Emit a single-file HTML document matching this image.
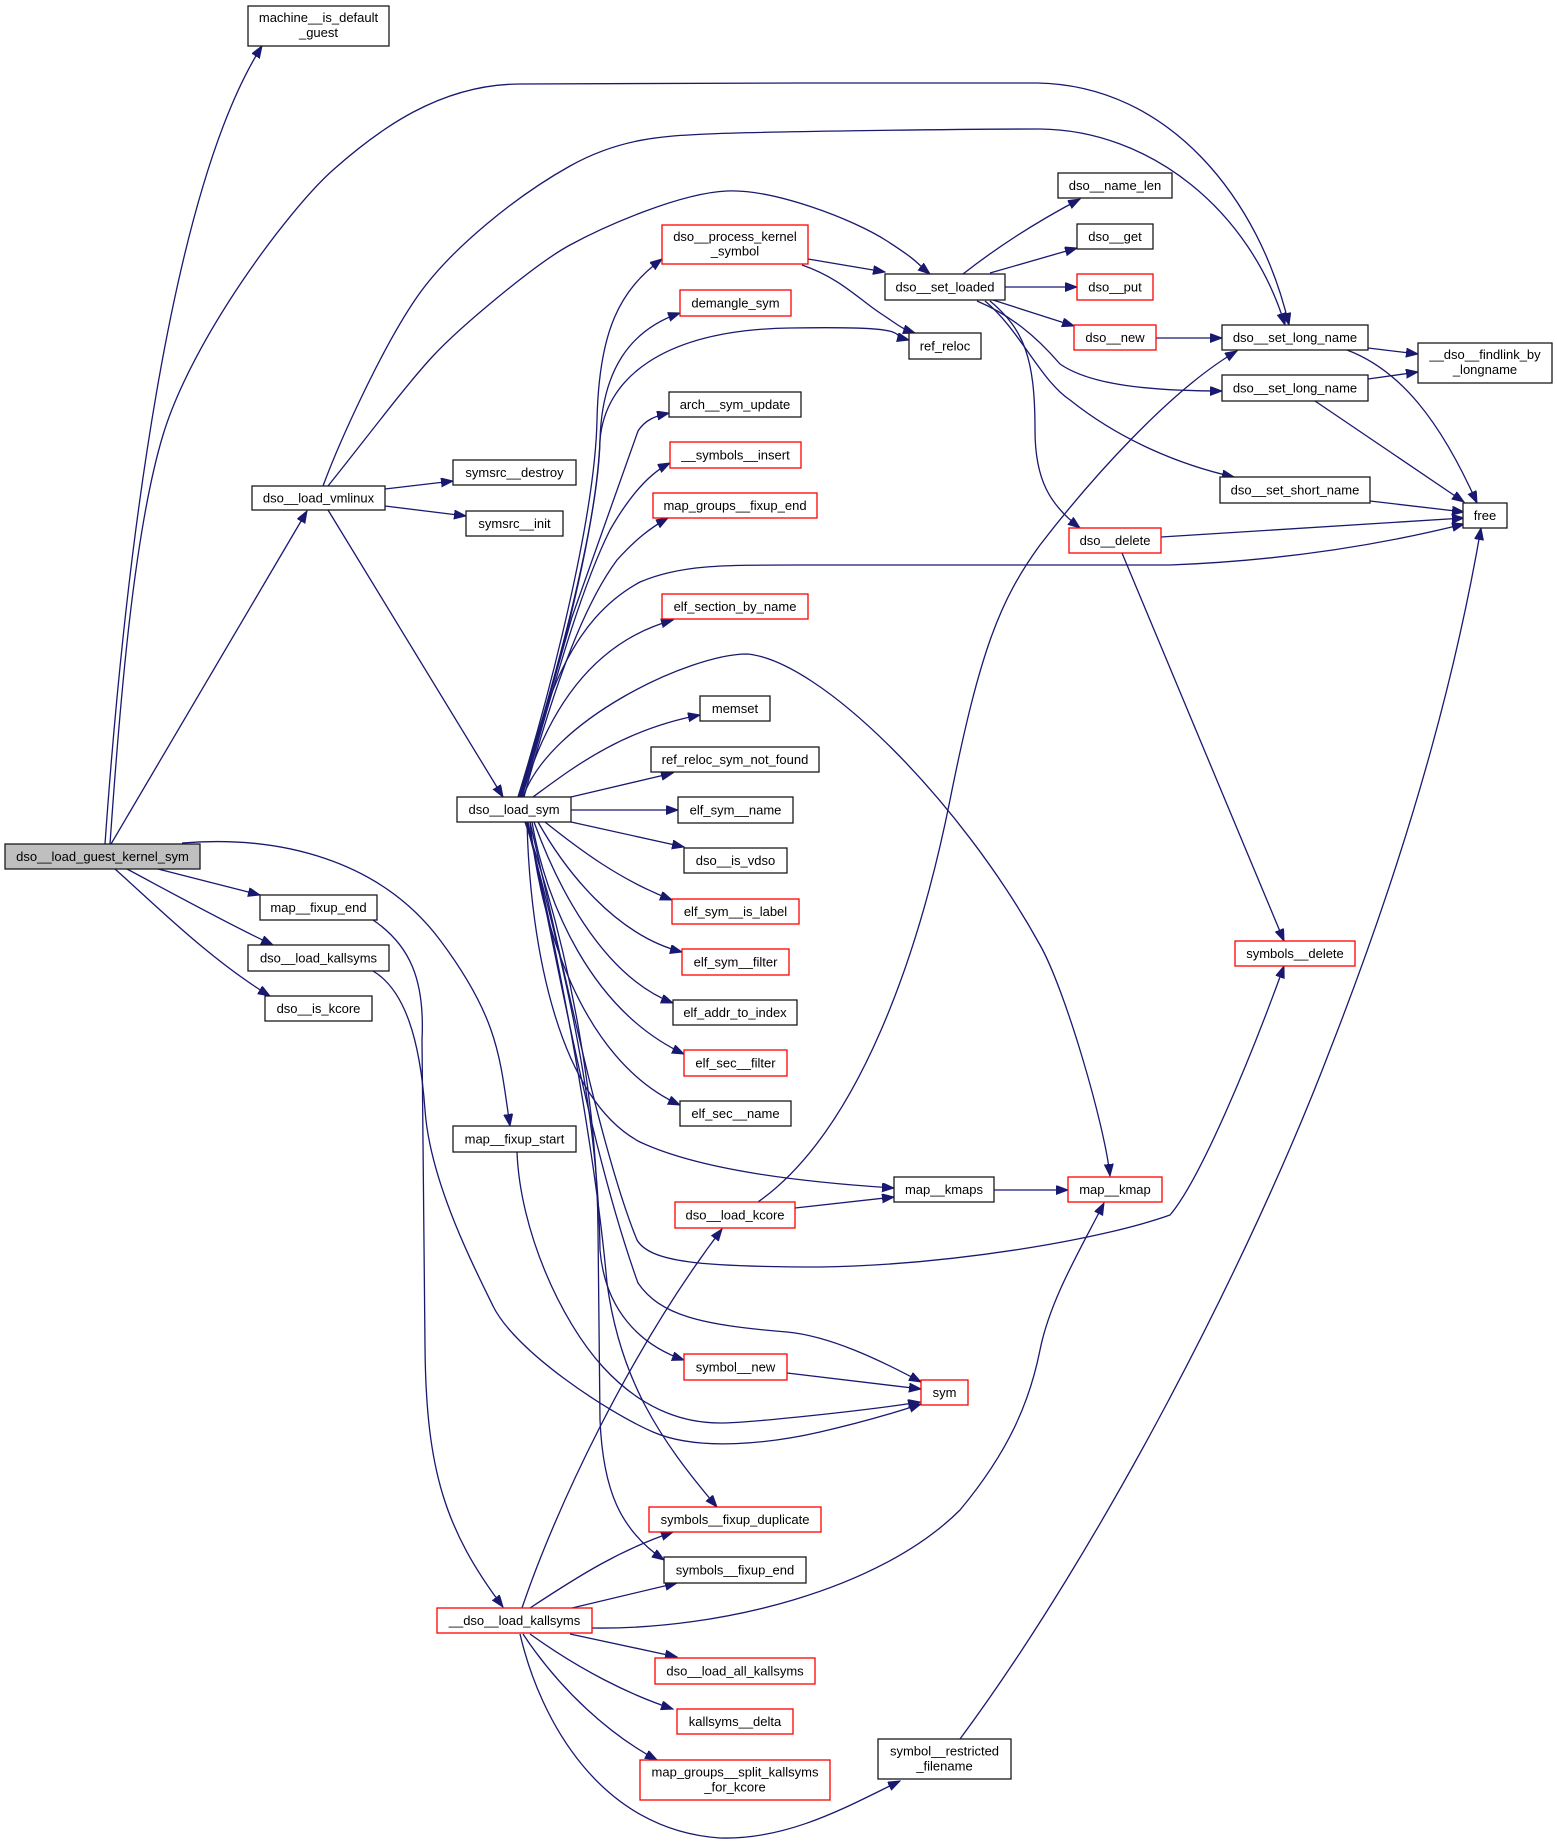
<!DOCTYPE html>
<html>
<head>
<meta charset="utf-8">
<style>
  html,body{margin:0;padding:0;background:#fff;}
  svg{display:block;}
  .e path{fill:none;stroke:#191970;stroke-width:1.3;marker-end:url(#a);}
  .n rect{fill:#fff;stroke:#1a1a1a;stroke-width:1.3;}
  .n rect.r{stroke:#ff0000;}
  .n rect.g{fill:#bfbfbf;}
  .n text{font-family:"Liberation Sans",Arial,sans-serif;font-size:13px;fill:#000;text-anchor:middle;}
</style>
</head>
<body>
<svg width="1557" height="1843" viewBox="0 0 1557 1843" xmlns="http://www.w3.org/2000/svg">
<defs>
  <marker id="a" markerWidth="13" markerHeight="10" refX="12" refY="4.5" orient="auto" markerUnits="userSpaceOnUse">
    <path d="M0,0 L12,4.5 L0,9 z" fill="#191970" stroke="#191970" stroke-width="1"/>
  </marker>
</defs>
<rect width="1557" height="1843" fill="#fff"/>

<g class="e">
  <path d="M105,844 C125,560 170,190 262,46"/>
  <path d="M110,844 C120,700 134,531 163,435 S288,210 333,170 S440,84 520,84 S900,82 1037,83 C1170,85 1260,200 1289,325"/>
  <path d="M323,486 C340,440 383,346 417,297 S518,195 570,166 S667,136 707,134 S950,129 1040,129 C1150,130 1250,210 1285,325"/>
  <path d="M328,486 C365,440 406,385 433,356 S535,264 570,245 S680,193 727,191 S853,219 887,241 S915,262 930,274"/>
  <path d="M111,844 L307,511"/>
  <path d="M385,489 L453,481"/>
  <path d="M385,506 L466,516"/>
  <path d="M328,510 L503,797"/>
  <path d="M158,869 L260,895"/>
  <path d="M127,869 C170,892 230,925 273,945"/>
  <path d="M115,869 C150,900 210,960 270,996"/>
  <path d="M182,843 C280,835 380,860 440,940 S500,1060 510,1126"/>
  <path d="M373,920 C410,945 425,980 422,1040 L425,1346 C426,1470 445,1530 503,1607"/>
  <path d="M373,971 C405,990 420,1040 425,1110 S471,1261 493,1306 S607,1412 653,1432 S772,1443 820,1432 S900,1411 921,1404"/>
  <path d="M517,1152 C520,1230 560,1320 603,1367 S690,1423 720,1423 S870,1410 920,1402"/>
  <path d="M808,259 L885,272"/>
  <path d="M802,265 C840,278 860,300 880,313 S900,328 915,333"/>
  <path d="M518,797 C548,700 595,520 597,420 C599,330 620,290 662,259"/>
  <path d="M519,797 C549,700 598,530 600,440 C602,370 630,330 680,313"/>
  <path d="M520,797 C550,700 596,540 600,440 C605,380 660,330 790,328 S885,334 909,340"/>
  <path d="M521,797 C540,730 560,660 572,617 L638,431 C645,420 655,416 669,413"/>
  <path d="M522,797 C545,720 575,600 610,530 C630,495 650,473 670,463"/>
  <path d="M524,797 C550,700 580,610 617,560 C635,540 650,528 668,518"/>
  <path d="M520,797 C545,700 570,620 640,582 C680,565 720,565 800,565 L1170,565 C1300,560 1400,540 1464,524"/>
  <path d="M522,797 C550,700 600,640 673,620"/>
  <path d="M523,797 C550,720 690,654 747,654 C820,660 960,800 1040,945 C1065,989 1105,1126 1110,1176"/>
  <path d="M533,797 C570,770 620,730 700,715"/>
  <path d="M571,797 L673,773"/>
  <path d="M571,810 L678,810"/>
  <path d="M571,822 L684,847"/>
  <path d="M545,822 C580,850 620,880 672,900"/>
  <path d="M538,822 C565,870 615,935 682,952"/>
  <path d="M534,822 C555,880 600,975 673,1003"/>
  <path d="M532,822 C545,900 590,1010 684,1054"/>
  <path d="M530,822 C540,920 580,1060 680,1105"/>
  <path d="M527,822 C530,950 560,1100 640,1142 C700,1170 800,1182 894,1188"/>
  <path d="M530,822 C560,950 600,1150 637,1240 C650,1262 700,1267 820,1267 C950,1265 1100,1240 1170,1215 C1200,1180 1250,1060 1284,966"/>
  <path d="M528,822 C555,950 590,1150 638,1283 C660,1315 700,1325 787,1332 C830,1336 880,1360 921,1382"/>
  <path d="M526,822 C560,950 598,1100 600,1250 C605,1310 640,1345 684,1360"/>
  <path d="M527,822 C560,960 595,1150 607,1283 C620,1380 660,1440 717,1507"/>
  <path d="M525,822 C570,950 597,1100 598,1230 L600,1420 C603,1490 620,1530 664,1560"/>
  <path d="M787,1373 L921,1389"/>
  <path d="M522,1608 C555,1510 630,1350 722,1229"/>
  <path d="M592,1628 C720,1630 880,1590 960,1510 C1010,1450 1030,1400 1040,1350 C1050,1300 1080,1250 1104,1203"/>
  <path d="M530,1608 C580,1575 620,1550 673,1532"/>
  <path d="M572,1608 L677,1583"/>
  <path d="M570,1634 L677,1657"/>
  <path d="M530,1634 C580,1670 630,1695 673,1709"/>
  <path d="M523,1634 C560,1690 610,1735 657,1760"/>
  <path d="M520,1634 C540,1720 600,1830 720,1838 C790,1840 850,1805 900,1781"/>
  <path d="M960,1739 C1100,1550 1250,1260 1330,1050 C1420,820 1460,650 1481,528"/>
  <path d="M758,1202 C860,1130 920,950 950,800 C980,650 1000,600 1040,545 C1090,480 1170,390 1237,351"/>
  <path d="M795,1208 L894,1197"/>
  <path d="M994,1190 L1068,1190"/>
  <path d="M963,274 C1000,245 1040,220 1080,199"/>
  <path d="M990,273 L1077,248"/>
  <path d="M1005,287 L1077,287"/>
  <path d="M993,300 L1074,326"/>
  <path d="M977,301 C1010,315 1035,335 1060,364 C1090,385 1150,391 1222,391"/>
  <path d="M985,301 C1020,330 1040,380 1070,400 C1120,440 1180,465 1234,477"/>
  <path d="M990,301 C1025,330 1035,360 1035,430 C1035,480 1050,505 1080,528"/>
  <path d="M1156,338 L1222,338"/>
  <path d="M1368,348 L1418,354"/>
  <path d="M1347,350 C1400,370 1440,420 1477,503"/>
  <path d="M1368,379 L1418,372"/>
  <path d="M1315,401 L1464,502"/>
  <path d="M1370,501 L1464,512"/>
  <path d="M1161,537 L1464,518"/>
  <path d="M1122,553 L1284,941"/>
</g>

<g class="n">
  <rect x="248" y="6" width="141" height="40"/><text x="318.5" y="22">machine__is_default</text><text x="318.5" y="37">_guest</text>
  <rect x="252" y="486" width="133" height="24"/><text x="318.5" y="502.5">dso__load_vmlinux</text>
  <rect x="453" y="460" width="123" height="25"/><text x="514.5" y="477">symsrc__destroy</text>
  <rect x="466" y="511" width="97" height="25"/><text x="514.5" y="528">symsrc__init</text>
  <rect class="r" x="662" y="225" width="146" height="39"/><text x="735" y="241">dso__process_kernel</text><text x="735" y="255.5">_symbol</text>
  <rect x="885" y="274" width="120" height="26"/><text x="945" y="291.5">dso__set_loaded</text>
  <rect class="r" x="680" y="290" width="111" height="26"/><text x="735.5" y="307.5">demangle_sym</text>
  <rect x="909" y="333" width="72" height="26"/><text x="945" y="350.5">ref_reloc</text>
  <rect x="669" y="392" width="132" height="25"/><text x="735" y="409">arch__sym_update</text>
  <rect class="r" x="670" y="442" width="131" height="26"/><text x="735.5" y="459.5">__symbols__insert</text>
  <rect class="r" x="653" y="493" width="164" height="25"/><text x="735" y="510">map_groups__fixup_end</text>
  <rect class="r" x="662" y="594" width="146" height="25"/><text x="735" y="611">elf_section_by_name</text>
  <rect x="1058" y="173" width="114" height="25"/><text x="1115" y="190">dso__name_len</text>
  <rect x="1077" y="224" width="76" height="25"/><text x="1115" y="241">dso__get</text>
  <rect class="r" x="1077" y="274" width="76" height="26"/><text x="1115" y="291.5">dso__put</text>
  <rect class="r" x="1074" y="325" width="82" height="25"/><text x="1115" y="342">dso__new</text>
  <rect x="1222" y="325" width="146" height="25"/><text x="1295" y="342">dso__set_long_name</text>
  <rect x="1418" y="343" width="134" height="40"/><text x="1485" y="359">__dso__findlink_by</text><text x="1485" y="374">_longname</text>
  <rect x="1222" y="375" width="146" height="26"/><text x="1295" y="392.5">dso__set_long_name</text>
  <rect x="1220" y="477" width="150" height="26"/><text x="1295" y="494.5">dso__set_short_name</text>
  <rect x="1463" y="503" width="44" height="25"/><text x="1485" y="520">free</text>
  <rect class="r" x="1069" y="528" width="92" height="25"/><text x="1115" y="545">dso__delete</text>
  <rect class="g" x="5" y="844" width="195" height="25"/><text x="102.5" y="861">dso__load_guest_kernel_sym</text>
  <rect x="260" y="895" width="117" height="25"/><text x="318.5" y="912">map__fixup_end</text>
  <rect x="248" y="945" width="141" height="26"/><text x="318.5" y="962.5">dso__load_kallsyms</text>
  <rect x="265" y="996" width="107" height="25"/><text x="318.5" y="1013">dso__is_kcore</text>
  <rect x="457" y="797" width="114" height="25"/><text x="514" y="814">dso__load_sym</text>
  <rect x="453" y="1126" width="123" height="26"/><text x="514.5" y="1143.5">map__fixup_start</text>
  <rect x="700" y="696" width="70" height="25"/><text x="735" y="713">memset</text>
  <rect x="651" y="747" width="168" height="25"/><text x="735" y="764">ref_reloc_sym_not_found</text>
  <rect x="678" y="797" width="115" height="26"/><text x="735.5" y="814.5">elf_sym__name</text>
  <rect x="684" y="848" width="103" height="25"/><text x="735.5" y="865">dso__is_vdso</text>
  <rect class="r" x="672" y="899" width="127" height="25"/><text x="735.5" y="916">elf_sym__is_label</text>
  <rect class="r" x="682" y="949" width="107" height="26"/><text x="735.5" y="966.5">elf_sym__filter</text>
  <rect x="673" y="1000" width="124" height="25"/><text x="735" y="1017">elf_addr_to_index</text>
  <rect class="r" x="684" y="1050" width="103" height="26"/><text x="735.5" y="1067.5">elf_sec__filter</text>
  <rect x="680" y="1101" width="111" height="25"/><text x="735.5" y="1118">elf_sec__name</text>
  <rect x="894" y="1177" width="100" height="25"/><text x="944" y="1194">map__kmaps</text>
  <rect class="r" x="675" y="1202" width="120" height="26"/><text x="735" y="1219.5">dso__load_kcore</text>
  <rect class="r" x="1235" y="941" width="120" height="25"/><text x="1295" y="958">symbols__delete</text>
  <rect class="r" x="1068" y="1177" width="94" height="25"/><text x="1115" y="1194">map__kmap</text>
  <rect class="r" x="437" y="1608" width="155" height="25"/><text x="514.5" y="1625">__dso__load_kallsyms</text>
  <rect class="r" x="684" y="1354" width="103" height="26"/><text x="735.5" y="1371.5">symbol__new</text>
  <rect class="r" x="921" y="1380" width="47" height="25"/><text x="944.5" y="1397">sym</text>
  <rect class="r" x="649" y="1507" width="172" height="25"/><text x="735" y="1524">symbols__fixup_duplicate</text>
  <rect x="664" y="1557" width="142" height="26"/><text x="735" y="1574.5">symbols__fixup_end</text>
  <rect class="r" x="655" y="1658" width="160" height="26"/><text x="735" y="1675.5">dso__load_all_kallsyms</text>
  <rect class="r" x="677" y="1709" width="116" height="25"/><text x="735" y="1726">kallsyms__delta</text>
  <rect class="r" x="640" y="1760" width="190" height="40"/><text x="735" y="1776.5">map_groups__split_kallsyms</text><text x="735" y="1791.5">_for_kcore</text>
  <rect x="878" y="1739" width="133" height="40"/><text x="944.5" y="1755.5">symbol__restricted</text><text x="944.5" y="1770.5">_filename</text>
</g>
</svg>
</body>
</html>
